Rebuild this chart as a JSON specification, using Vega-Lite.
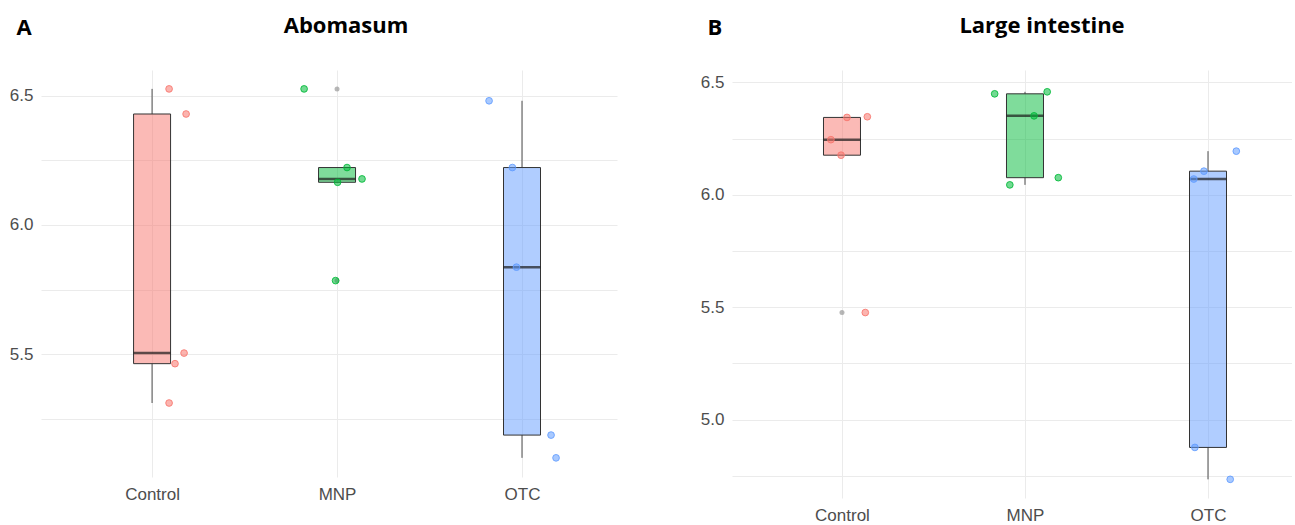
{
  "$schema": "https://vega.github.io/schema/vega-lite/v6.json",
  "padding": {"left": 9, "top": 15, "right": 0, "bottom": 0},
  "background": "white",
  "config": {
    "view": {"stroke": null},
    "axis": {
      "domain": false,
      "ticks": false,
      "gridColor": "#ebebeb",
      "gridWidth": 1,
      "labelColor": "#4d4d4d",
      "labelFont": "Liberation Sans",
      "labelFontSize": 17
    },
    "title": {"font": "Open Sans", "fontSize": 22, "fontWeight": "bold", "color": "#000000", "anchor": "middle"}
  },
  "datasets": {
    "abo": [
      {"group": "Control", "value": 6.526, "jitter": 0.092},
      {"group": "Control", "value": 6.429, "jitter": 0.184},
      {"group": "Control", "value": 5.505, "jitter": 0.173},
      {"group": "Control", "value": 5.464, "jitter": 0.124},
      {"group": "Control", "value": 5.312, "jitter": 0.092},
      {"group": "MNP", "value": 6.526, "jitter": -0.178},
      {"group": "MNP", "value": 6.222, "jitter": 0.054},
      {"group": "MNP", "value": 6.178, "jitter": 0.135},
      {"group": "MNP", "value": 6.165, "jitter": 0.003},
      {"group": "MNP", "value": 5.785, "jitter": -0.008},
      {"group": "OTC", "value": 6.48, "jitter": -0.178},
      {"group": "OTC", "value": 6.222, "jitter": -0.052},
      {"group": "OTC", "value": 5.837, "jitter": -0.03},
      {"group": "OTC", "value": 5.188, "jitter": 0.157},
      {"group": "OTC", "value": 5.1, "jitter": 0.184}
    ],
    "li": [
      {"group": "Control", "value": 6.344, "jitter": 0.027},
      {"group": "Control", "value": 6.347, "jitter": 0.137},
      {"group": "Control", "value": 6.245, "jitter": -0.06},
      {"group": "Control", "value": 6.176, "jitter": -0.005},
      {"group": "Control", "value": 5.476, "jitter": 0.126},
      {"group": "MNP", "value": 6.449, "jitter": -0.164},
      {"group": "MNP", "value": 6.458, "jitter": 0.12},
      {"group": "MNP", "value": 6.351, "jitter": 0.049},
      {"group": "MNP", "value": 6.076, "jitter": 0.18},
      {"group": "MNP", "value": 6.044, "jitter": -0.082},
      {"group": "OTC", "value": 6.194, "jitter": 0.153},
      {"group": "OTC", "value": 6.105, "jitter": -0.022},
      {"group": "OTC", "value": 6.07, "jitter": -0.077},
      {"group": "OTC", "value": 4.876, "jitter": -0.071},
      {"group": "OTC", "value": 4.734, "jitter": 0.12}
    ]
  },
  "spacing": 115,
  "bounds": "flush",
  "hconcat": [
    {
      "width": 576,
      "height": 407,
      "data": {"name": "abo"},
      "title": {"text": "Abomasum", "dx": 17, "offset": -39, "baseline": "alphabetic"},
      "encoding": {
        "x": {
          "field": "group", "type": "nominal",
          "scale": {"type": "point", "padding": 0.557, "align": 0.539},
          "axis": {"title": null, "labelAngle": 0, "labelPadding": 9, "grid": true}
        },
        "y": {
          "field": "value", "type": "quantitative",
          "scale": {"domain": [5.026, 6.599], "nice": false, "zero": false},
          "axis": {
            "values": [5.25, 5.5, 5.75, 6.0, 6.25, 6.5],
            "labelExpr": "datum.value % 0.5 == 0 ? format(datum.value, '.1f') : ''",
            "labelPadding": 8,
            "title": "A", "titleAngle": 0, "titleX": -25, "titleY": -43,
            "titleAlign": "left", "titleBaseline": "middle",
            "titleFont": "Open Sans", "titleFontSize": 22, "titleFontWeight": "bold", "titleColor": "#000000"
          }
        }
      },
      "layer": [
        {
          "mark": {
            "type": "boxplot", "extent": 1.5, "size": 37,
            "box": {"fillOpacity": 0.5, "stroke": "#333333", "strokeWidth": 1},
            "median": {"color": "#1a1a1a", "thickness": 2.5},
            "rule": {"color": "#4d4d4d", "strokeWidth": 1},
            "ticks": false,
            "outliers": false
          },
          "encoding": {
            "color": {"field": "group", "type": "nominal", "legend": null,
              "scale": {"domain": ["Control", "MNP", "OTC"], "range": ["#F8766D", "#00BA38", "#619CFF"]}}
          }
        },
        {
          "mark": {
            "type": "boxplot", "extent": 1.5, "size": 37,
            "box": false, "median": false, "rule": false, "ticks": false,
            "outliers": {"color": "#999999", "size": 25, "opacity": 0.7, "filled": true}
          }
        },
        {
          "mark": {"type": "point", "filled": false, "size": 45, "fillOpacity": 0.55, "strokeOpacity": 0.85, "strokeWidth": 1},
          "encoding": {
            "xOffset": {"field": "jitter", "type": "quantitative", "scale": {"domain": [-0.5, 0.5], "range": [-92.5, 92.5]}},
            "color": {"field": "group", "type": "nominal", "legend": null,
              "scale": {"domain": ["Control", "MNP", "OTC"], "range": ["#F8766D", "#00BA38", "#619CFF"]}},
            "fill": {"field": "group", "type": "nominal", "legend": null,
              "scale": {"domain": ["Control", "MNP", "OTC"], "range": ["#F8766D", "#00BA38", "#619CFF"]}}
          }
        }
      ]
    },
    {
      "width": 560,
      "height": 428,
      "data": {"name": "li"},
      "title": {"text": "Large intestine", "dx": 30, "offset": -39, "baseline": "alphabetic"},
      "encoding": {
        "x": {
          "field": "group", "type": "nominal",
          "scale": {"type": "point", "padding": 0.53, "align": 0.567},
          "axis": {"title": null, "labelAngle": 0, "labelPadding": 9, "grid": true}
        },
        "y": {
          "field": "value", "type": "quantitative",
          "scale": {"domain": [4.651, 6.555], "nice": false, "zero": false},
          "axis": {
            "values": [4.75, 5.0, 5.25, 5.5, 5.75, 6.0, 6.25, 6.5],
            "labelExpr": "datum.value % 0.5 == 0 ? format(datum.value, '.1f') : ''",
            "labelPadding": 8,
            "title": "B", "titleAngle": 0, "titleX": -25, "titleY": -43,
            "titleAlign": "left", "titleBaseline": "middle",
            "titleFont": "Open Sans", "titleFontSize": 22, "titleFontWeight": "bold", "titleColor": "#000000"
          }
        }
      },
      "layer": [
        {
          "mark": {
            "type": "boxplot", "extent": 1.5, "size": 37,
            "box": {"fillOpacity": 0.5, "stroke": "#333333", "strokeWidth": 1},
            "median": {"color": "#1a1a1a", "thickness": 2.5},
            "rule": {"color": "#4d4d4d", "strokeWidth": 1},
            "ticks": false,
            "outliers": false
          },
          "encoding": {
            "color": {"field": "group", "type": "nominal", "legend": null,
              "scale": {"domain": ["Control", "MNP", "OTC"], "range": ["#F8766D", "#00BA38", "#619CFF"]}}
          }
        },
        {
          "mark": {
            "type": "boxplot", "extent": 1.5, "size": 37,
            "box": false, "median": false, "rule": false, "ticks": false,
            "outliers": {"color": "#999999", "size": 25, "opacity": 0.7, "filled": true}
          }
        },
        {
          "mark": {"type": "point", "filled": false, "size": 45, "fillOpacity": 0.55, "strokeOpacity": 0.85, "strokeWidth": 1},
          "encoding": {
            "xOffset": {"field": "jitter", "type": "quantitative", "scale": {"domain": [-0.5, 0.5], "range": [-91.5, 91.5]}},
            "color": {"field": "group", "type": "nominal", "legend": null,
              "scale": {"domain": ["Control", "MNP", "OTC"], "range": ["#F8766D", "#00BA38", "#619CFF"]}},
            "fill": {"field": "group", "type": "nominal", "legend": null,
              "scale": {"domain": ["Control", "MNP", "OTC"], "range": ["#F8766D", "#00BA38", "#619CFF"]}}
          }
        }
      ]
    }
  ]
}
